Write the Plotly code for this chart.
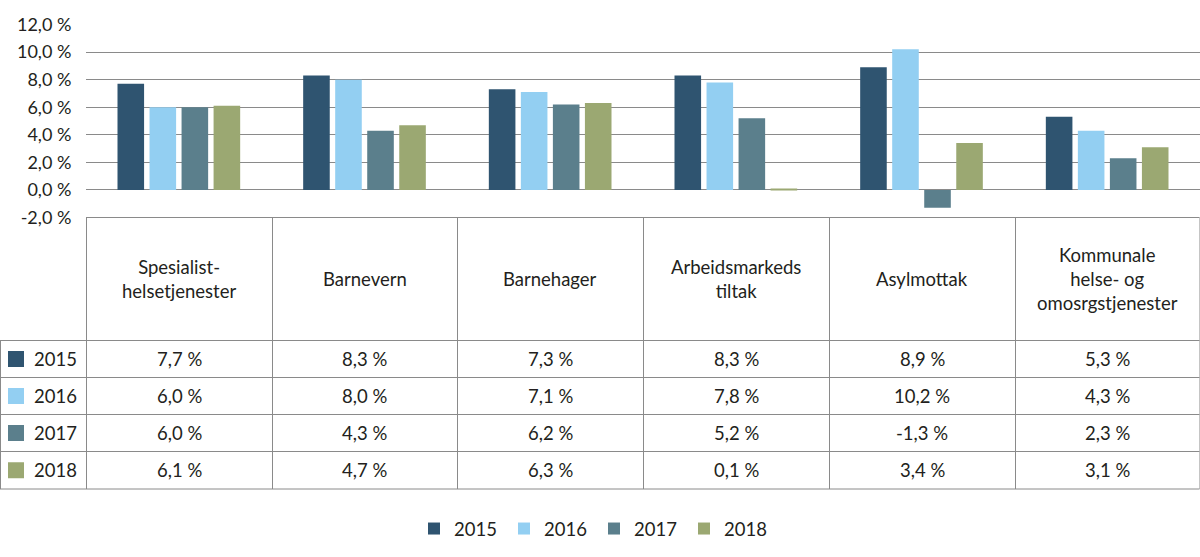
import plotly.graph_objects as go

W, H = 1200, 557

categories = ["Spesialist-<br>helsetjenester", "Barnevern", "Barnehager",
              "Arbeidsmarkeds<br>tiltak", "Asylmottak",
              "Kommunale<br>helse- og<br>omosrgstjenester"]
years = ["2015", "2016", "2017", "2018"]
v2015 = [7.7, 8.3, 7.3, 8.3, 8.9, 5.3]
v2016 = [6.0, 8.0, 7.1, 7.8, 10.2, 4.3]
v2017 = [6.0, 4.3, 6.2, 5.2, -1.3, 2.3]
v2018 = [6.1, 4.7, 6.3, 0.1, 3.4, 3.1]
yticks = [-2, 0, 2, 4, 6, 8, 10, 12]

series = [v2015, v2016, v2017, v2018]
colors = ["#2f5470", "#93cff2", "#5b7f8c", "#9ba872"]
FONT = "Lato"
FS = 18.5
TXT = "#231f20"
LINE = "#8a8a8a"


def xp(px):
    return px / W


def yp(px):
    return 1 - px / H


def pct(v):
    return ("%.1f" % v).replace(".", ",") + " %"


fig = go.Figure()
for name, vals, col in zip(years, series, colors):
    fig.add_trace(go.Bar(x=list(range(len(categories))), y=vals, name=name,
                         marker=dict(color=col, line=dict(width=0))))

fig.update_layout(
    width=W, height=H,
    margin=dict(l=0, r=0, t=0, b=0),
    paper_bgcolor="white", plot_bgcolor="white",
    font=dict(family=FONT, size=FS, color=TXT),
    barmode="group", bargap=0.31, bargroupgap=0.17,
    showlegend=True,
    legend=dict(orientation="h", x=0.495, xanchor="center", y=yp(529),
                yanchor="middle", entrywidth=45, entrywidthmode="pixels",
                font=dict(size=FS), traceorder="normal"),
    xaxis=dict(domain=[xp(86), 1], range=[-0.5, len(categories) - 0.5],
               showticklabels=False, showgrid=False, zeroline=False,
               fixedrange=True, automargin=False),
    yaxis=dict(domain=[yp(217.5), yp(24.5)], range=[-2, 12],
               tickvals=yticks, ticktext=[pct(v) for v in yticks],
               showgrid=True, gridcolor=LINE, gridwidth=1,
               zeroline=True, zerolinecolor=LINE, zerolinewidth=1,
               ticks="outside", ticklen=10, tickcolor="white",
               tickfont=dict(size=18), automargin=False, fixedrange=True),
)

# data table under the chart
col_edges = [0, 86, 272, 457, 643, 829, 1015, 1199.5]
row_edges = [217.5, 340.5, 377.5, 414.5, 451.5, 489]
shapes = []
# horizontal lines
shapes.append(dict(type="line", xref="paper", yref="paper",
                   x0=xp(86), x1=xp(1199.5), y0=yp(217.5), y1=yp(217.5),
                   line=dict(color=LINE, width=1)))
for r in row_edges[1:]:
    shapes.append(dict(type="line", xref="paper", yref="paper",
                       x0=0, x1=xp(1199.5), y0=yp(r), y1=yp(r),
                       line=dict(color=LINE, width=1)))
# vertical lines
for i, c in enumerate(col_edges):
    top = row_edges[1] if i == 0 else row_edges[0]
    shapes.append(dict(type="line", xref="paper", yref="paper",
                       x0=xp(c + 0.5), x1=xp(c + 0.5), y0=yp(top), y1=yp(row_edges[-1]),
                       line=dict(color=LINE, width=1)))

annotations = []
for j, cat in enumerate(categories):
    cx = (col_edges[j + 1] + col_edges[j + 2]) / 2
    annotations.append(dict(xref="paper", yref="paper", x=xp(cx),
                            y=yp((row_edges[0] + row_edges[1]) / 2),
                            text=cat, showarrow=False, align="center",
                            xanchor="center", yanchor="middle",
                            font=dict(size=FS, color=TXT)))
for i, (name, vals, col) in enumerate(zip(years, series, colors)):
    cy = (row_edges[i + 1] + row_edges[i + 2]) / 2
    shapes.append(dict(type="rect", xref="paper", yref="paper",
                       x0=xp(8), x1=xp(24), y0=yp(cy - 8), y1=yp(cy + 8),
                       fillcolor=col, line=dict(width=0)))
    annotations.append(dict(xref="paper", yref="paper", x=xp(32), y=yp(cy),
                            text=name, showarrow=False, xanchor="left",
                            yanchor="middle", font=dict(size=FS, color=TXT)))
    for j, v in enumerate(vals):
        cx = (col_edges[j + 1] + col_edges[j + 2]) / 2
        annotations.append(dict(xref="paper", yref="paper", x=xp(cx), y=yp(cy),
                                text=pct(v), showarrow=False,
                                xanchor="center", yanchor="middle",
                                font=dict(size=FS, color=TXT)))

fig.update_layout(shapes=shapes, annotations=annotations)
fig.write_html("out.html", config={"displayModeBar": False},
               post_script="document.body.style.margin='0';")
